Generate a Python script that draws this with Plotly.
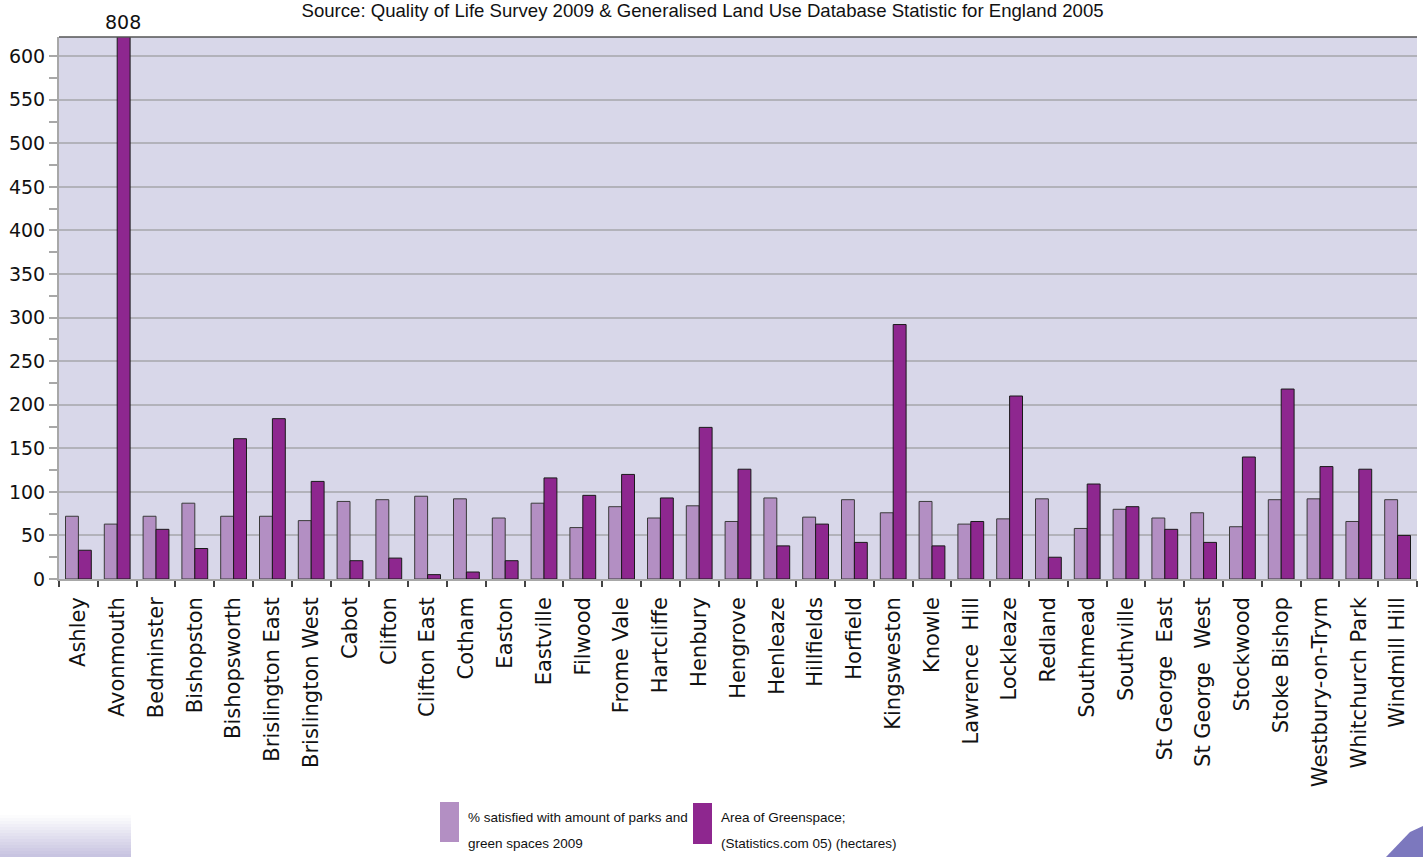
import plotly.graph_objects as go

# Bristol wards
wards = [
    "Ashley", "Avonmouth", "Bedminster", "Bishopston", "Bishopsworth",
    "Brislington East", "Brislington West", "Cabot", "Clifton", "Clifton East",
    "Cotham", "Easton", "Eastville", "Filwood", "Frome Vale", "Hartcliffe",
    "Henbury", "Hengrove", "Henleaze", "Hillfields", "Horfield", "Kingsweston",
    "Knowle", "Lawrence  Hill", "Lockleaze", "Redland", "Southmead", "Southville",
    "St George  East", "St George  West", "Stockwood", "Stoke Bishop",
    "Westbury-on-Trym", "Whitchurch Park", "Windmill Hill",
]

# % satisfied with amount of parks and green spaces (2009)
satisfied = [72, 63, 72, 87, 72, 72, 67, 89, 91, 95, 92, 70, 87, 59, 83, 70, 84,
             66, 93, 71, 91, 76, 89, 63, 69, 92, 58, 80, 70, 76, 60, 91, 92, 66, 91]

# Area of greenspace, hectares (2005)
greenspace = [33, 808, 57, 35, 161, 184, 112, 21, 24, 5, 8, 21, 116, 96, 120, 93,
              174, 126, 38, 63, 42, 292, 38, 66, 210, 25, 109, 83, 57, 42, 140,
              218, 129, 126, 50]

y_ticks = list(range(0, 601, 50))

series_names = ["% satisfied with amount of parks and green spaces 2009",
                "Area of Greenspace; (Statistics.com 05) (hectares)"]
legend_lines = [["% satisfied with amount of parks and", "green spaces 2009"],
                ["Area of Greenspace;", "(Statistics.com 05) (hectares)"]]

LIGHT = "#B38FC3"
DARK = "#8E278F"
W, H = 1423, 857
ML, MR, MT, MB = 59, 6, 37, 278
PW, PH = W - ML - MR, H - MT - MB


def px(x):
    return (x - ML) / PW


def py(y):
    return (H - MB - y) / PH


fig = go.Figure()
fig.add_trace(go.Bar(x=wards, y=satisfied, name=series_names[0],
                     marker=dict(color=LIGHT, line=dict(color="#3a3a3a", width=1))))
fig.add_trace(go.Bar(x=wards, y=greenspace, name=series_names[1],
                     marker=dict(color=DARK, line=dict(color="#1a1a1a", width=1))))

shapes = []
# top border of the plot area
shapes.append(dict(type="line", xref="paper", yref="paper", x0=0, x1=1, y0=1, y1=1,
                   line=dict(color="#555555", width=1.5)))

# manual legend swatches
shapes.append(dict(type="rect", xref="paper", yref="paper", x0=px(440), x1=px(459),
                   y0=py(842), y1=py(802), fillcolor=LIGHT, line=dict(width=0)))
shapes.append(dict(type="rect", xref="paper", yref="paper", x0=px(693), x1=px(712),
                   y0=py(844), y1=py(803), fillcolor=DARK, line=dict(width=0)))

# soft lavender band in the lower left corner
n_strips = 14
top, bot = 815, 857
for i in range(n_strips):
    t = (i + 0.5) / n_strips
    r = int(255 + (198 - 255) * t)
    g = int(255 + (194 - 255) * t)
    b = int(255 + (224 - 255) * t)
    y0 = top + (bot - top) * i / n_strips
    y1 = top + (bot - top) * (i + 1) / n_strips
    shapes.append(dict(type="rect", xref="paper", yref="paper", x0=px(0), x1=px(131),
                       y0=py(y1), y1=py(y0), fillcolor=f"rgb({r},{g},{b})",
                       line=dict(width=0), layer="below"))

# corner ornament at the lower right
shapes.append(dict(type="path", xref="paper", yref="paper",
                   path=f"M {px(1386)} {py(857)} L {px(1423)} {py(857)} L {px(1423)} {py(826)} "
                        f"L {px(1410)} {py(832)} Z",
                   fillcolor="#7C78BE", line=dict(width=0)))

annotations = []
# value label for the clipped Avonmouth bar
annotations.append(dict(x=wards[1], y=1, xref="x", yref="paper", text=str(greenspace[1]),
                        showarrow=False, xshift=6, yanchor="bottom", yshift=2,
                        font=dict(family="DejaVu Sans", size=19, color="#111111")))
legend_font = dict(family="Liberation Sans", size=13.5, color="#111111")
for (x_left, lines) in zip([466, 719], legend_lines):
    for y_c, line in zip([817, 843], lines):
        annotations.append(dict(x=px(x_left), y=py(y_c), xref="paper", yref="paper",
                                text=line, showarrow=False, xanchor="left", yanchor="middle",
                                font=legend_font))

fig.update_layout(
    width=W, height=H, autosize=False,
    margin=dict(l=ML, r=MR, t=MT, b=MB),
    paper_bgcolor="white", plot_bgcolor="#D8D7E9",
    barmode="group", bargap=0.335, bargroupgap=0,
    showlegend=False,
    title=dict(text="Source: Quality of Life Survey 2009 & Generalised Land Use Database Statistic for England 2005",
               x=0.4937, xanchor="center", xref="container",
               y=0.988, yanchor="middle", yref="container",
               font=dict(family="Liberation Sans", size=18.6, color="#111111")),
    shapes=shapes,
    annotations=annotations,
)

fig.update_xaxes(
    type="category", tickson="boundaries", ticks="outside", ticklen=6,
    tickcolor="#444444", tickwidth=1.5, showgrid=False,
    showline=True, linecolor="#A8A8A8", linewidth=1.5,
    tickangle=-90, ticklabelstandoff=8,
    tickfont=dict(family="DejaVu Sans", size=21, color="#111111"),
)
fig.update_yaxes(
    range=[0, 622], tickvals=y_ticks, ticks="outside", ticklen=8,
    tickcolor="#A8A8A8", tickwidth=1.5,
    minor=dict(dtick=25, ticks="outside", ticklen=8, tickcolor="#A8A8A8", tickwidth=1.5, showgrid=False),
    showgrid=True, gridcolor="#B2B2BA", gridwidth=1.5, zeroline=False,
    showline=True, linecolor="#A8A8A8", linewidth=2,
    tickfont=dict(family="DejaVu Sans", size=19, color="#111111"),
)

fig.write_html("out.html")
